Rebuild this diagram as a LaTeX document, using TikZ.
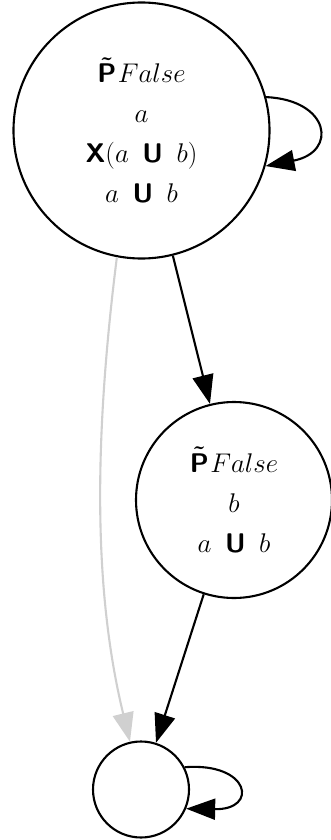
\RequirePackage{fix-cm}
\documentclass[tikz,border=0pt]{standalone}
\usetikzlibrary{arrows.meta}
\newcommand{\sfb}[1]{\mbox{\sffamily\bfseries #1}}
\newcommand{\Ptil}{\mbox{\boldmath$\tilde{\sfb{P}}$}}
\newcommand{\gsp}{\mkern9mu}
\definecolor{edgegray}{RGB}{208,208,208}
\begin{document}
\begin{tikzpicture}[x=1pt,y=-1pt,
  state/.style={circle,draw=black,line width=2.1pt,inner sep=0pt,align=center,
    font=\fontsize{27}{40}\selectfont},
  edge/.style={line width=2.1pt,-{Triangle[length=29pt,width=21pt]}},
  grayedge/.style={edge,draw=edgegray,-{Triangle[length=29pt,width=21pt,fill=edgegray]}}]
\useasboundingbox (0,0) rectangle (331,840);
\node[state,minimum size=256pt] (n1) at (141.5,130.5)
  {$\Ptil\mkern1mu False$\\ $a$\\ $\sfb{X}(a\gsp\sfb{U}\gsp b)$\\ $a\gsp\sfb{U}\gsp b$};
\node[state,minimum size=196pt] (n2) at (234,500)
  {$\Ptil\mkern1mu False$\\ $b$\\ $a\gsp\sfb{U}\gsp b$};
\node[state,minimum size=96pt] (n3) at (141,789.5) {};
\draw[edge] (n1) -- (n2);
\draw[edge] (n2) -- (n3);
\draw[grayedge] (n1.259.6) .. controls (90,470) and (98,610) .. (n3.103.6);
\draw[edge] (n1.15.6) .. controls (330,100) and (338,152) .. (n1.-16.9);
\draw[edge] (n3.27) .. controls (250,762) and (259,810) .. (n3.-23.8);
\end{tikzpicture}
\end{document}
